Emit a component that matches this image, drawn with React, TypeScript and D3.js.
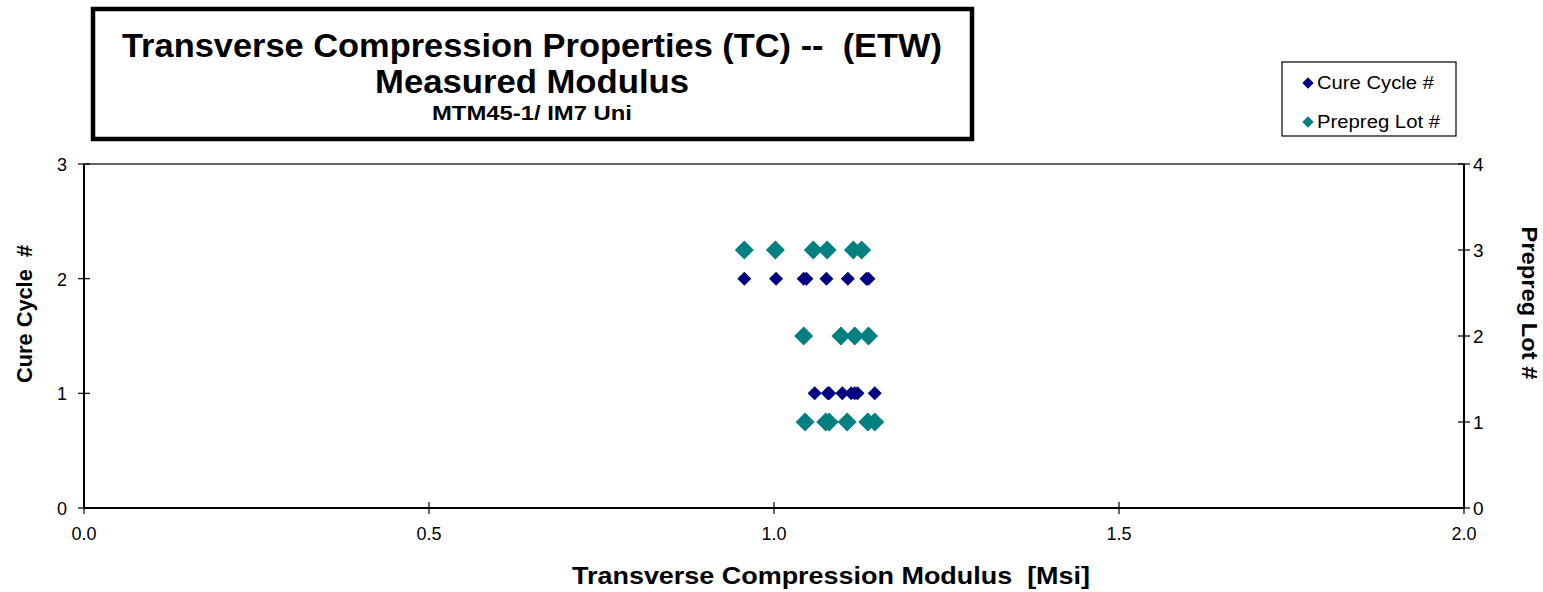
// Scatter chart: transverse compression modulus vs cure cycle / prepreg lot
import * as d3 from "d3";

const WIDTH = 1543;
const HEIGHT = 592;

// Modulus readings [Msi] grouped by cure cycle
const cureCycle1Modulus = [1.059, 1.078, 1.080, 1.099, 1.112, 1.117, 1.121, 1.146];
const cureCycle2Modulus = [0.957, 1.003, 1.043, 1.047, 1.076, 1.107, 1.134, 1.137];

// Modulus readings [Msi] grouped by prepreg lot
const lot1Modulus = [1.045, 1.075, 1.080, 1.106, 1.136, 1.146];
const lot2Modulus = [1.043, 1.097, 1.117, 1.137];
const lot3Modulus = [0.957, 1.002, 1.057, 1.077, 1.115, 1.127];

// Axis ticks
const xTicks = [0, 0.5, 1.0, 1.5, 2.0];
const leftTicks = [0, 1, 2, 3];
const rightTicks = [0, 1, 2, 3, 4];

const legendItems = [
  { label: "Cure Cycle #", color: "#000080", len: 117 },
  { label: "Prepreg Lot #", color: "#008080", len: 123 },
];

const FONT = "'Liberation Sans', Arial, sans-serif";

export default function App() {
  const margin = { left: 84, right: 79, top: 164, bottom: 84 };
  const plotRight = WIDTH - margin.right;
  const plotBottom = HEIGHT - margin.bottom;

  const x = d3.scaleLinear().domain([0, 2]).range([margin.left, plotRight]);
  const yLeft = d3.scaleLinear().domain([0, 3]).range([plotBottom, margin.top]);
  const yRight = d3.scaleLinear().domain([0, 4]).range([plotBottom, margin.top]);

  // build the point lists from the grouped arrays
  const curePoints = [
    ...cureCycle1Modulus.map((v) => ({ x: v, y: 1 })),
    ...cureCycle2Modulus.map((v) => ({ x: v, y: 2 })),
  ];
  const lotPoints = [
    ...lot1Modulus.map((v) => ({ x: v, y: 1 })),
    ...lot2Modulus.map((v) => ({ x: v, y: 2 })),
    ...lot3Modulus.map((v) => ({ x: v, y: 3 })),
  ];

  const smallDiamond = d3.symbol(d3.symbolSquare, 98)();
  const bigDiamond = d3.symbol(d3.symbolSquare, 180)();
  const legendDiamond = d3.symbol(d3.symbolSquare, 64)();

  return (
    <svg
      width={WIDTH}
      height={HEIGHT}
      style={{ position: "absolute", left: 0, top: 0, background: "#fff" }}
      fontFamily={FONT}
    >
      {/* title box */}
      <rect x={93} y={9} width={879} height={130} fill="#fff" stroke="#000" strokeWidth={4.5} />
      <text x={532} y={57} textAnchor="middle" fontWeight="bold" fontSize={33}
        textLength={820} lengthAdjust="spacingAndGlyphs" style={{ whiteSpace: "pre" }}>
        Transverse Compression Properties (TC) --  (ETW)
      </text>
      <text x={532} y={93} textAnchor="middle" fontWeight="bold" fontSize={33}
        textLength={314} lengthAdjust="spacingAndGlyphs">
        Measured Modulus
      </text>
      <text x={532} y={120} textAnchor="middle" fontWeight="bold" fontSize={20}
        textLength={200} lengthAdjust="spacingAndGlyphs">
        MTM45-1/ IM7 Uni
      </text>

      {/* legend */}
      <rect x={1282} y={62} width={174} height={74} fill="#fff" stroke="#000" strokeWidth={1.2} />
      {legendItems.map((d, i) => (
        <g key={d.label} transform={`translate(0,${83 + i * 39})`}>
          <path d={legendDiamond} transform="translate(1308,0) rotate(45)" fill={d.color} />
          <text x={1317} y={6} fontSize={18} textLength={d.len} lengthAdjust="spacingAndGlyphs">
            {d.label}
          </text>
        </g>
      ))}

      {/* plot frame */}
      <rect
        x={margin.left}
        y={margin.top}
        width={plotRight - margin.left}
        height={plotBottom - margin.top}
        fill="none"
        stroke="#000"
        strokeWidth={1.2}
      />
      <line x1={margin.left} x2={plotRight} y1={plotBottom} y2={plotBottom} stroke="#000" strokeWidth={2} />
      <line x1={margin.left} x2={margin.left} y1={margin.top} y2={plotBottom} stroke="#000" strokeWidth={2} />
      <line x1={plotRight} x2={plotRight} y1={margin.top} y2={plotBottom} stroke="#000" strokeWidth={2} />

      {/* left axis */}
      {leftTicks.map((t) => (
        <g key={`l${t}`}>
          <line x1={margin.left - 6} x2={margin.left + 6} y1={yLeft(t)} y2={yLeft(t)} stroke="#000" strokeWidth={1.2} />
          <text x={margin.left - 17} y={yLeft(t) + 7} textAnchor="end" fontSize={18}>
            {t}
          </text>
        </g>
      ))}

      {/* right axis */}
      {rightTicks.map((t) => (
        <g key={`r${t}`}>
          <line x1={plotRight - 6} x2={plotRight + 6} y1={yRight(t)} y2={yRight(t)} stroke="#000" strokeWidth={1.2} />
          <text x={plotRight + 9} y={yRight(t) + 7} fontSize={19}>
            {t}
          </text>
        </g>
      ))}

      {/* bottom axis */}
      {xTicks.map((t) => (
        <g key={`x${t}`}>
          <line x1={x(t)} x2={x(t)} y1={plotBottom - 6} y2={plotBottom + 6} stroke="#000" strokeWidth={1.2} />
          <text x={x(t)} y={plotBottom + 32} textAnchor="middle" fontSize={18}>
            {t.toFixed(1)}
          </text>
        </g>
      ))}

      {/* axis titles */}
      <text
        transform="translate(32,314) rotate(-90)"
        textAnchor="middle"
        fontWeight="bold"
        fontSize={22}
        textLength={138}
        lengthAdjust="spacingAndGlyphs"
        style={{ whiteSpace: "pre" }}
      >
        Cure Cycle  #
      </text>
      <text
        transform="translate(1522,303) rotate(90)"
        textAnchor="middle"
        fontWeight="bold"
        fontSize={22}
        textLength={153}
        lengthAdjust="spacingAndGlyphs"
      >
        Prepreg Lot #
      </text>
      <text x={831} y={584} textAnchor="middle" fontWeight="bold" fontSize={24}
        textLength={518} lengthAdjust="spacingAndGlyphs" style={{ whiteSpace: "pre" }}>
        Transverse Compression Modulus  [Msi]
      </text>

      {/* points: prepreg lot on right scale, cure cycle on left scale */}
      {lotPoints.map((p, i) => (
        <path
          key={`lot${i}`}
          d={bigDiamond}
          transform={`translate(${x(p.x)},${yRight(p.y)}) rotate(45)`}
          fill="#008080"
        />
      ))}
      {curePoints.map((p, i) => (
        <path
          key={`cc${i}`}
          d={smallDiamond}
          transform={`translate(${x(p.x)},${yLeft(p.y)}) rotate(45)`}
          fill="#000080"
        />
      ))}
    </svg>
  );
}
